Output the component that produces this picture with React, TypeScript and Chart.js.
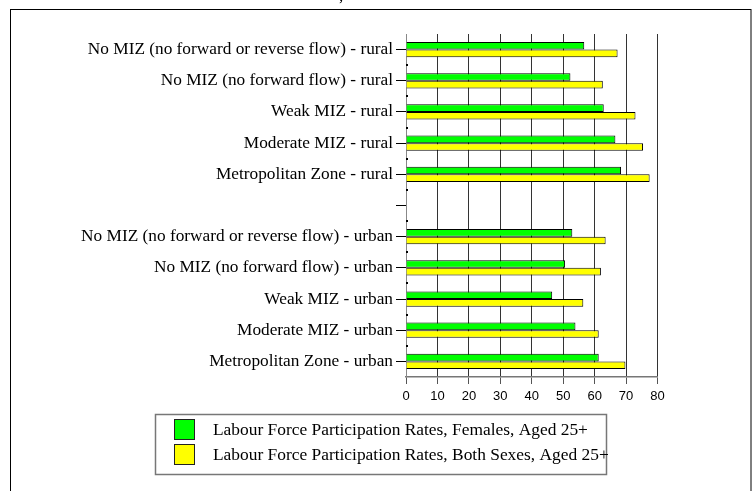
import React, { useEffect, useRef } from "react";
import { Chart, registerables } from "chart.js";

Chart.register(...registerables);

const categories: string[] = [
  "No MIZ (no forward or reverse flow) - rural",
  "No MIZ (no forward flow) - rural",
  "Weak MIZ - rural",
  "Moderate MIZ - rural",
  "Metropolitan Zone - rural",
  "",
  "No MIZ (no forward or reverse flow) - urban",
  "No MIZ (no forward flow) - urban",
  "Weak MIZ - urban",
  "Moderate MIZ - urban",
  "Metropolitan Zone - urban",
];

const femalesValues: (number | null)[] = [56.7, 52.3, 62.9, 66.6, 68.4, null, 52.9, 50.6, 46.5, 53.9, 61.3];
const bothSexesValues: (number | null)[] = [67.3, 62.6, 73.0, 75.4, 77.5, null, 63.5, 62.0, 56.4, 61.3, 69.8];

const seriesLabels: string[] = [
  "Labour Force Participation Rates, Females, Aged 25+",
  "Labour Force Participation Rates, Both Sexes, Aged 25+",
];

const xTicks: number[] = [0, 10, 20, 30, 40, 50, 60, 70, 80];

const SERIF = "'Liberation Serif', 'Times New Roman', serif";
const SANS = "'Liberation Sans', Arial, sans-serif";

const framePlugin = {
  id: "frame",
  afterDraw(chart: any) {
    const ctx = chart.ctx;
    ctx.save();
    // outer frame
    ctx.strokeStyle = "#000";
    ctx.lineWidth = 1;
    ctx.strokeRect(10.5, 9.5, 740.5, 600);
    // remnant of cut-off title
    ctx.fillStyle = "#000";
    ctx.font = `17px ${SERIF}`;
    ctx.textBaseline = "alphabetic";
    ctx.fillText(",", 339, 1);

    // small marks at category boundaries on the y axis
    const y = chart.scales.y;
    const xl = chart.chartArea.left;
    for (let i = 0; i < categories.length - 1; i++) {
      const py = y.getPixelForValue(i + 0.5);
      ctx.fillRect(xl, Math.round(py) - 1, 2, 2);
    }

    // legend box
    ctx.strokeStyle = "#777";
    ctx.lineWidth = 1.5;
    ctx.strokeRect(155.5, 414.5, 451, 60);
    ctx.font = `17.4px ${SERIF}`;
    ctx.textBaseline = "middle";
    ctx.textAlign = "left";
    chart.data.datasets.forEach((ds: any, i: number) => {
      const top = 419 + i * 25;
      ctx.fillStyle = ds.backgroundColor;
      ctx.fillRect(174, top, 21, 21);
      ctx.strokeStyle = "#222";
      ctx.lineWidth = 1;
      ctx.strokeRect(174.5, top + 0.5, 20, 20);
      ctx.fillStyle = "#000";
      ctx.fillText(ds.label, 213, top + 11);
    });
    ctx.restore();
  },
};

export default function App() {
  const ref = useRef<HTMLCanvasElement | null>(null);

  useEffect(() => {
    if (!ref.current) return;
    const chart = new Chart(ref.current, {
      type: "bar",
      data: {
        labels: categories,
        datasets: [
          {
            label: seriesLabels[0],
            data: femalesValues,
            backgroundColor: "#00FF00",
            borderColor: "#000",
            borderWidth: 1,
            categoryPercentage: 0.49,
            barPercentage: 1,
          },
          {
            label: seriesLabels[1],
            data: bothSexesValues,
            backgroundColor: "#FFFF00",
            borderColor: "#000",
            borderWidth: 1,
            categoryPercentage: 0.49,
            barPercentage: 1,
          },
        ],
      },
      options: {
        indexAxis: "y",
        animation: false,
        responsive: true,
        maintainAspectRatio: false,
        layout: { padding: { top: 34, right: 98.5, left: 0, bottom: 0 } },
        plugins: {
          legend: { display: false },
          tooltip: { enabled: false },
          title: { display: false },
        },
        scales: {
          x: {
            type: "linear",
            min: 0,
            max: 80,
            afterBuildTicks: (s: any) => {
              s.ticks = xTicks.map((v) => ({ value: v }));
            },
            ticks: {
              font: { family: SANS, size: 13 },
              color: "#000",
              padding: 5,
            },
            grid: {
              color: "#333",
              lineWidth: 1,
              tickLength: 7,
              tickColor: "#555",
            },
            border: { color: "#777", width: 1.5 },
            afterFit: (s: any) => {
              s.height = 491 - 377;
            },
          },
          y: {
            type: "category",
            ticks: {
              font: { family: SERIF, size: 17.3 },
              color: "#000",
              padding: 3,
              autoSkip: false,
            },
            grid: {
              drawOnChartArea: false,
              offset: false,
              tickLength: 10,
              color: "#000",
              lineWidth: 1,
            },
            border: { color: "#888", width: 1 },
            afterFit: (s: any) => {
              s.width = 406;
            },
          },
        },
      },
      plugins: [framePlugin],
    });
    return () => chart.destroy();
  }, []);

  return (
    <div style={{ position: "absolute", left: 0, top: 0, width: 756, height: 491, background: "#fff" }}>
      <canvas ref={ref} />
    </div>
  );
}
